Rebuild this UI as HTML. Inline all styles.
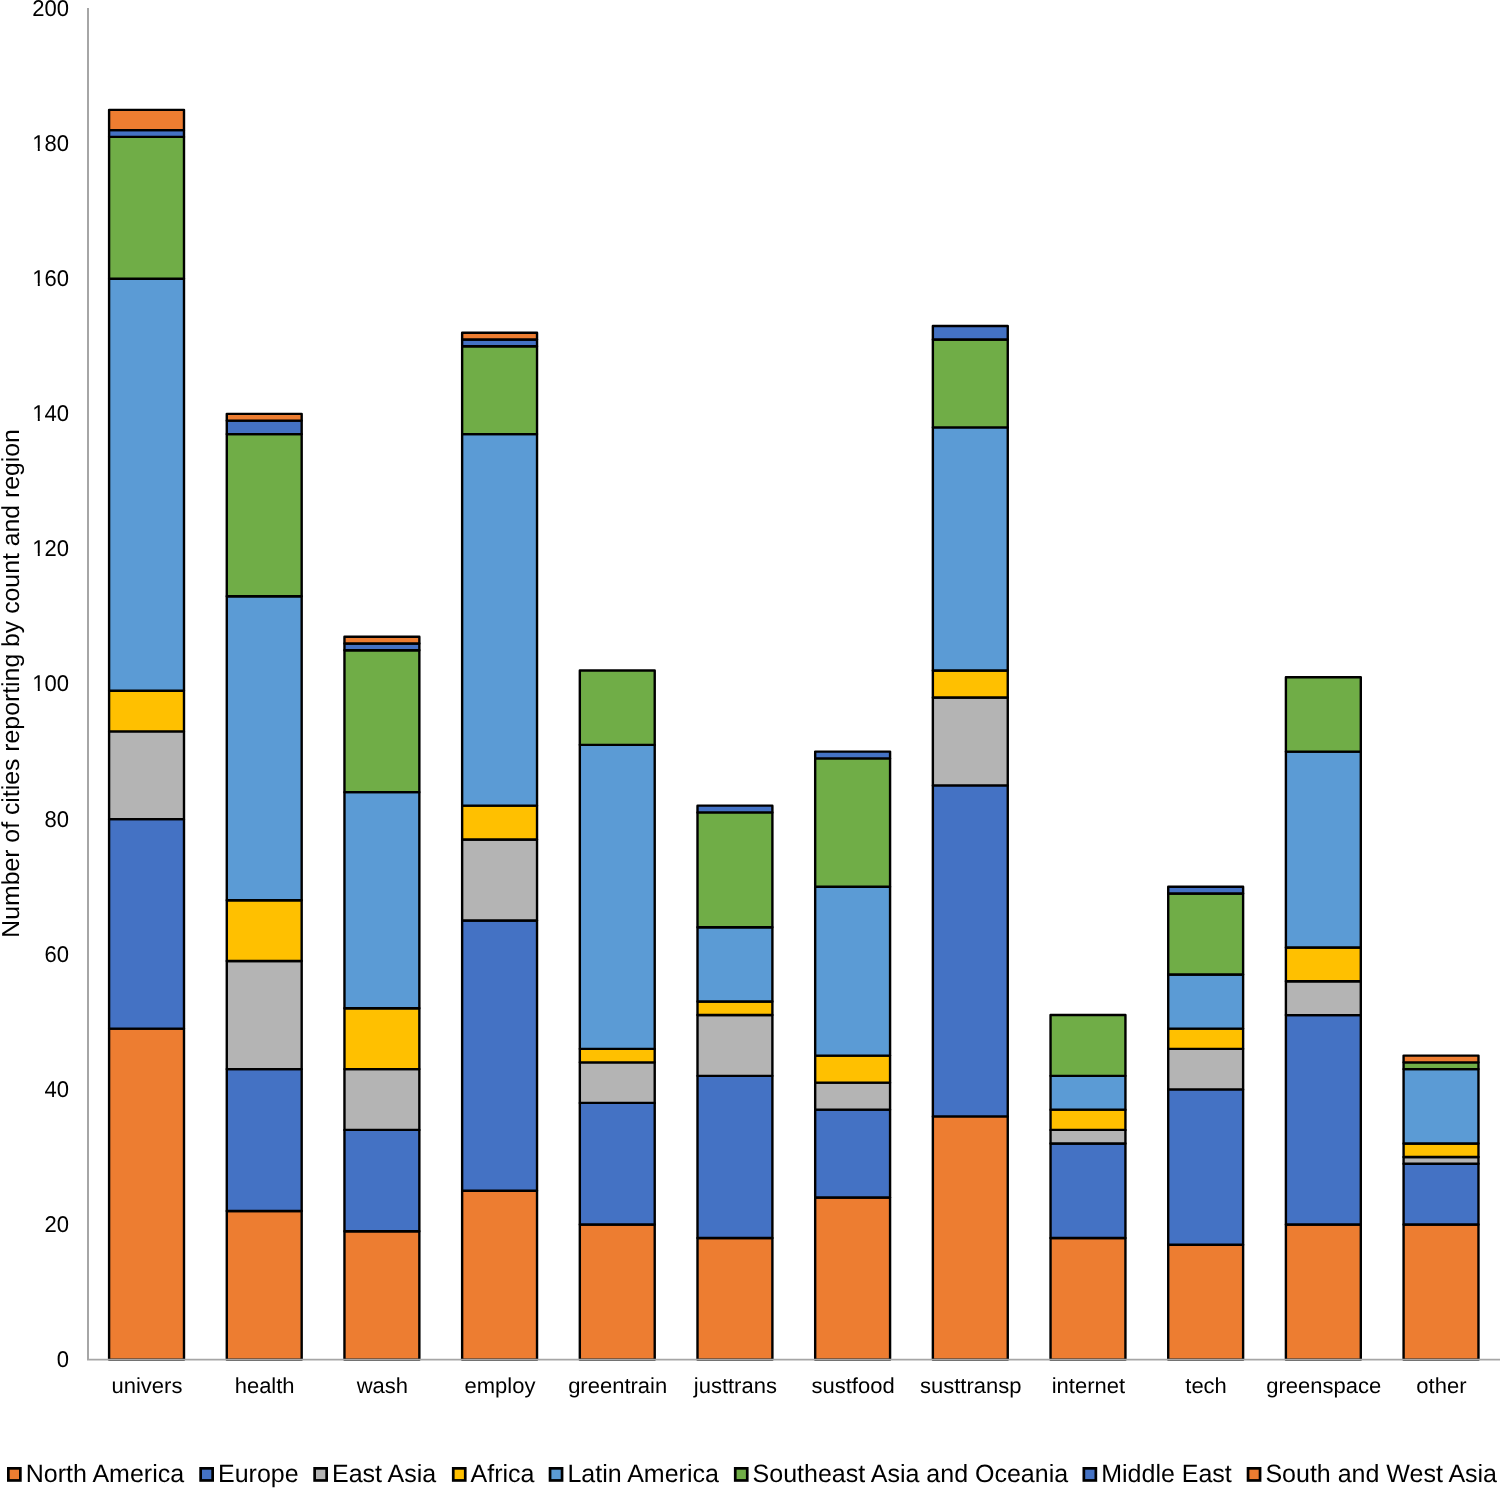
<!DOCTYPE html>
<html><head><meta charset="utf-8"><style>
html,body{margin:0;padding:0;background:#fff;}
body{width:1500px;height:1488px;overflow:hidden;}
svg{display:block;font-family:"Liberation Sans",sans-serif;fill:#000;text-rendering:geometricPrecision;will-change:transform;}
</style></head><body>
<svg width="1500" height="1488" viewBox="0 0 1500 1488">
<line x1="88" y1="8" x2="88" y2="1359.6" stroke="#A6A6A6" stroke-width="2"/>
<rect x="109.10" y="1028.59" width="74.90" height="331.01" fill="#ED7D31" stroke="#000" stroke-width="2.4" stroke-linejoin="round"/>
<rect x="109.10" y="819.17" width="74.90" height="209.42" fill="#4472C4" stroke="#000" stroke-width="2.4" stroke-linejoin="round"/>
<rect x="109.10" y="731.35" width="74.90" height="87.82" fill="#B4B4B4" stroke="#000" stroke-width="2.4" stroke-linejoin="round"/>
<rect x="109.10" y="690.82" width="74.90" height="40.53" fill="#FFC000" stroke="#000" stroke-width="2.4" stroke-linejoin="round"/>
<rect x="109.10" y="278.74" width="74.90" height="412.08" fill="#5B9BD5" stroke="#000" stroke-width="2.4" stroke-linejoin="round"/>
<rect x="109.10" y="136.87" width="74.90" height="141.86" fill="#70AD47" stroke="#000" stroke-width="2.4" stroke-linejoin="round"/>
<rect x="109.10" y="130.12" width="74.90" height="6.76" fill="#4472C4" stroke="#000" stroke-width="2.4" stroke-linejoin="round"/>
<rect x="109.10" y="109.85" width="74.90" height="20.27" fill="#ED7D31" stroke="#000" stroke-width="2.4" stroke-linejoin="round"/>
<rect x="226.78" y="1210.98" width="74.90" height="148.62" fill="#ED7D31" stroke="#000" stroke-width="2.4" stroke-linejoin="round"/>
<rect x="226.78" y="1069.12" width="74.90" height="141.86" fill="#4472C4" stroke="#000" stroke-width="2.4" stroke-linejoin="round"/>
<rect x="226.78" y="961.03" width="74.90" height="108.09" fill="#B4B4B4" stroke="#000" stroke-width="2.4" stroke-linejoin="round"/>
<rect x="226.78" y="900.23" width="74.90" height="60.80" fill="#FFC000" stroke="#000" stroke-width="2.4" stroke-linejoin="round"/>
<rect x="226.78" y="596.24" width="74.90" height="303.99" fill="#5B9BD5" stroke="#000" stroke-width="2.4" stroke-linejoin="round"/>
<rect x="226.78" y="434.11" width="74.90" height="162.13" fill="#70AD47" stroke="#000" stroke-width="2.4" stroke-linejoin="round"/>
<rect x="226.78" y="420.60" width="74.90" height="13.51" fill="#4472C4" stroke="#000" stroke-width="2.4" stroke-linejoin="round"/>
<rect x="226.78" y="413.84" width="74.90" height="6.76" fill="#ED7D31" stroke="#000" stroke-width="2.4" stroke-linejoin="round"/>
<rect x="344.46" y="1231.25" width="74.90" height="128.35" fill="#ED7D31" stroke="#000" stroke-width="2.4" stroke-linejoin="round"/>
<rect x="344.46" y="1129.92" width="74.90" height="101.33" fill="#4472C4" stroke="#000" stroke-width="2.4" stroke-linejoin="round"/>
<rect x="344.46" y="1069.12" width="74.90" height="60.80" fill="#B4B4B4" stroke="#000" stroke-width="2.4" stroke-linejoin="round"/>
<rect x="344.46" y="1008.32" width="74.90" height="60.80" fill="#FFC000" stroke="#000" stroke-width="2.4" stroke-linejoin="round"/>
<rect x="344.46" y="792.15" width="74.90" height="216.17" fill="#5B9BD5" stroke="#000" stroke-width="2.4" stroke-linejoin="round"/>
<rect x="344.46" y="650.28" width="74.90" height="141.86" fill="#70AD47" stroke="#000" stroke-width="2.4" stroke-linejoin="round"/>
<rect x="344.46" y="643.53" width="74.90" height="6.76" fill="#4472C4" stroke="#000" stroke-width="2.4" stroke-linejoin="round"/>
<rect x="344.46" y="636.77" width="74.90" height="6.76" fill="#ED7D31" stroke="#000" stroke-width="2.4" stroke-linejoin="round"/>
<rect x="462.14" y="1190.71" width="74.90" height="168.88" fill="#ED7D31" stroke="#000" stroke-width="2.4" stroke-linejoin="round"/>
<rect x="462.14" y="920.50" width="74.90" height="270.22" fill="#4472C4" stroke="#000" stroke-width="2.4" stroke-linejoin="round"/>
<rect x="462.14" y="839.43" width="74.90" height="81.06" fill="#B4B4B4" stroke="#000" stroke-width="2.4" stroke-linejoin="round"/>
<rect x="462.14" y="805.66" width="74.90" height="33.78" fill="#FFC000" stroke="#000" stroke-width="2.4" stroke-linejoin="round"/>
<rect x="462.14" y="434.11" width="74.90" height="371.55" fill="#5B9BD5" stroke="#000" stroke-width="2.4" stroke-linejoin="round"/>
<rect x="462.14" y="346.29" width="74.90" height="87.82" fill="#70AD47" stroke="#000" stroke-width="2.4" stroke-linejoin="round"/>
<rect x="462.14" y="339.53" width="74.90" height="6.76" fill="#4472C4" stroke="#000" stroke-width="2.4" stroke-linejoin="round"/>
<rect x="462.14" y="332.78" width="74.90" height="6.76" fill="#ED7D31" stroke="#000" stroke-width="2.4" stroke-linejoin="round"/>
<rect x="579.82" y="1224.49" width="74.90" height="135.11" fill="#ED7D31" stroke="#000" stroke-width="2.4" stroke-linejoin="round"/>
<rect x="579.82" y="1102.89" width="74.90" height="121.60" fill="#4472C4" stroke="#000" stroke-width="2.4" stroke-linejoin="round"/>
<rect x="579.82" y="1062.36" width="74.90" height="40.53" fill="#B4B4B4" stroke="#000" stroke-width="2.4" stroke-linejoin="round"/>
<rect x="579.82" y="1048.85" width="74.90" height="13.51" fill="#FFC000" stroke="#000" stroke-width="2.4" stroke-linejoin="round"/>
<rect x="579.82" y="744.86" width="74.90" height="303.99" fill="#5B9BD5" stroke="#000" stroke-width="2.4" stroke-linejoin="round"/>
<rect x="579.82" y="670.55" width="74.90" height="74.31" fill="#70AD47" stroke="#000" stroke-width="2.4" stroke-linejoin="round"/>
<rect x="697.50" y="1238.00" width="74.90" height="121.60" fill="#ED7D31" stroke="#000" stroke-width="2.4" stroke-linejoin="round"/>
<rect x="697.50" y="1075.87" width="74.90" height="162.13" fill="#4472C4" stroke="#000" stroke-width="2.4" stroke-linejoin="round"/>
<rect x="697.50" y="1015.07" width="74.90" height="60.80" fill="#B4B4B4" stroke="#000" stroke-width="2.4" stroke-linejoin="round"/>
<rect x="697.50" y="1001.56" width="74.90" height="13.51" fill="#FFC000" stroke="#000" stroke-width="2.4" stroke-linejoin="round"/>
<rect x="697.50" y="927.25" width="74.90" height="74.31" fill="#5B9BD5" stroke="#000" stroke-width="2.4" stroke-linejoin="round"/>
<rect x="697.50" y="812.41" width="74.90" height="114.84" fill="#70AD47" stroke="#000" stroke-width="2.4" stroke-linejoin="round"/>
<rect x="697.50" y="805.66" width="74.90" height="6.76" fill="#4472C4" stroke="#000" stroke-width="2.4" stroke-linejoin="round"/>
<rect x="815.18" y="1197.47" width="74.90" height="162.13" fill="#ED7D31" stroke="#000" stroke-width="2.4" stroke-linejoin="round"/>
<rect x="815.18" y="1109.65" width="74.90" height="87.82" fill="#4472C4" stroke="#000" stroke-width="2.4" stroke-linejoin="round"/>
<rect x="815.18" y="1082.63" width="74.90" height="27.02" fill="#B4B4B4" stroke="#000" stroke-width="2.4" stroke-linejoin="round"/>
<rect x="815.18" y="1055.61" width="74.90" height="27.02" fill="#FFC000" stroke="#000" stroke-width="2.4" stroke-linejoin="round"/>
<rect x="815.18" y="886.72" width="74.90" height="168.88" fill="#5B9BD5" stroke="#000" stroke-width="2.4" stroke-linejoin="round"/>
<rect x="815.18" y="758.37" width="74.90" height="128.35" fill="#70AD47" stroke="#000" stroke-width="2.4" stroke-linejoin="round"/>
<rect x="815.18" y="751.61" width="74.90" height="6.76" fill="#4472C4" stroke="#000" stroke-width="2.4" stroke-linejoin="round"/>
<rect x="932.86" y="1116.41" width="74.90" height="243.19" fill="#ED7D31" stroke="#000" stroke-width="2.4" stroke-linejoin="round"/>
<rect x="932.86" y="785.39" width="74.90" height="331.01" fill="#4472C4" stroke="#000" stroke-width="2.4" stroke-linejoin="round"/>
<rect x="932.86" y="697.57" width="74.90" height="87.82" fill="#B4B4B4" stroke="#000" stroke-width="2.4" stroke-linejoin="round"/>
<rect x="932.86" y="670.55" width="74.90" height="27.02" fill="#FFC000" stroke="#000" stroke-width="2.4" stroke-linejoin="round"/>
<rect x="932.86" y="427.35" width="74.90" height="243.19" fill="#5B9BD5" stroke="#000" stroke-width="2.4" stroke-linejoin="round"/>
<rect x="932.86" y="339.53" width="74.90" height="87.82" fill="#70AD47" stroke="#000" stroke-width="2.4" stroke-linejoin="round"/>
<rect x="932.86" y="326.02" width="74.90" height="13.51" fill="#4472C4" stroke="#000" stroke-width="2.4" stroke-linejoin="round"/>
<rect x="1050.54" y="1238.00" width="74.90" height="121.60" fill="#ED7D31" stroke="#000" stroke-width="2.4" stroke-linejoin="round"/>
<rect x="1050.54" y="1143.43" width="74.90" height="94.58" fill="#4472C4" stroke="#000" stroke-width="2.4" stroke-linejoin="round"/>
<rect x="1050.54" y="1129.92" width="74.90" height="13.51" fill="#B4B4B4" stroke="#000" stroke-width="2.4" stroke-linejoin="round"/>
<rect x="1050.54" y="1109.65" width="74.90" height="20.27" fill="#FFC000" stroke="#000" stroke-width="2.4" stroke-linejoin="round"/>
<rect x="1050.54" y="1075.87" width="74.90" height="33.78" fill="#5B9BD5" stroke="#000" stroke-width="2.4" stroke-linejoin="round"/>
<rect x="1050.54" y="1015.07" width="74.90" height="60.80" fill="#70AD47" stroke="#000" stroke-width="2.4" stroke-linejoin="round"/>
<rect x="1168.22" y="1244.76" width="74.90" height="114.84" fill="#ED7D31" stroke="#000" stroke-width="2.4" stroke-linejoin="round"/>
<rect x="1168.22" y="1089.38" width="74.90" height="155.37" fill="#4472C4" stroke="#000" stroke-width="2.4" stroke-linejoin="round"/>
<rect x="1168.22" y="1048.85" width="74.90" height="40.53" fill="#B4B4B4" stroke="#000" stroke-width="2.4" stroke-linejoin="round"/>
<rect x="1168.22" y="1028.59" width="74.90" height="20.27" fill="#FFC000" stroke="#000" stroke-width="2.4" stroke-linejoin="round"/>
<rect x="1168.22" y="974.54" width="74.90" height="54.04" fill="#5B9BD5" stroke="#000" stroke-width="2.4" stroke-linejoin="round"/>
<rect x="1168.22" y="893.48" width="74.90" height="81.06" fill="#70AD47" stroke="#000" stroke-width="2.4" stroke-linejoin="round"/>
<rect x="1168.22" y="886.72" width="74.90" height="6.76" fill="#4472C4" stroke="#000" stroke-width="2.4" stroke-linejoin="round"/>
<rect x="1285.90" y="1224.49" width="74.90" height="135.11" fill="#ED7D31" stroke="#000" stroke-width="2.4" stroke-linejoin="round"/>
<rect x="1285.90" y="1015.07" width="74.90" height="209.42" fill="#4472C4" stroke="#000" stroke-width="2.4" stroke-linejoin="round"/>
<rect x="1285.90" y="981.30" width="74.90" height="33.78" fill="#B4B4B4" stroke="#000" stroke-width="2.4" stroke-linejoin="round"/>
<rect x="1285.90" y="947.52" width="74.90" height="33.78" fill="#FFC000" stroke="#000" stroke-width="2.4" stroke-linejoin="round"/>
<rect x="1285.90" y="751.61" width="74.90" height="195.91" fill="#5B9BD5" stroke="#000" stroke-width="2.4" stroke-linejoin="round"/>
<rect x="1285.90" y="677.30" width="74.90" height="74.31" fill="#70AD47" stroke="#000" stroke-width="2.4" stroke-linejoin="round"/>
<rect x="1403.58" y="1224.49" width="74.90" height="135.11" fill="#ED7D31" stroke="#000" stroke-width="2.4" stroke-linejoin="round"/>
<rect x="1403.58" y="1163.69" width="74.90" height="60.80" fill="#4472C4" stroke="#000" stroke-width="2.4" stroke-linejoin="round"/>
<rect x="1403.58" y="1156.94" width="74.90" height="6.76" fill="#B4B4B4" stroke="#000" stroke-width="2.4" stroke-linejoin="round"/>
<rect x="1403.58" y="1143.43" width="74.90" height="13.51" fill="#FFC000" stroke="#000" stroke-width="2.4" stroke-linejoin="round"/>
<rect x="1403.58" y="1069.12" width="74.90" height="74.31" fill="#5B9BD5" stroke="#000" stroke-width="2.4" stroke-linejoin="round"/>
<rect x="1403.58" y="1062.36" width="74.90" height="6.76" fill="#70AD47" stroke="#000" stroke-width="2.4" stroke-linejoin="round"/>
<rect x="1403.58" y="1055.61" width="74.90" height="6.76" fill="#ED7D31" stroke="#000" stroke-width="2.4" stroke-linejoin="round"/>
<line x1="87" y1="1359.6" x2="1500" y2="1359.6" stroke="#A6A6A6" stroke-width="1.6"/>
<text transform="translate(69.0,1367.00) scale(1,1.04)" text-anchor="end" font-size="22">0</text>
<text transform="translate(69.0,1231.89) scale(1,1.04)" text-anchor="end" font-size="22">20</text>
<text transform="translate(69.0,1096.78) scale(1,1.04)" text-anchor="end" font-size="22">40</text>
<text transform="translate(69.0,961.68) scale(1,1.04)" text-anchor="end" font-size="22">60</text>
<text transform="translate(69.0,826.57) scale(1,1.04)" text-anchor="end" font-size="22">80</text>
<text transform="translate(69.0,691.46) scale(1,1.04)" text-anchor="end" font-size="22">100</text>
<text transform="translate(69.0,556.35) scale(1,1.04)" text-anchor="end" font-size="22">120</text>
<text transform="translate(69.0,421.24) scale(1,1.04)" text-anchor="end" font-size="22">140</text>
<text transform="translate(69.0,286.14) scale(1,1.04)" text-anchor="end" font-size="22">160</text>
<text transform="translate(69.0,151.03) scale(1,1.04)" text-anchor="end" font-size="22">180</text>
<text transform="translate(69.0,15.92) scale(1,1.04)" text-anchor="end" font-size="22">200</text>
<g fill="#fff"><rect x="32.59" y="688.46" width="5.23" height="3.8"/><rect x="39.77" y="688.46" width="4.58" height="3.8"/><rect x="32.59" y="553.35" width="5.23" height="3.8"/><rect x="39.77" y="553.35" width="4.58" height="3.8"/><rect x="32.59" y="418.24" width="5.23" height="3.8"/><rect x="39.77" y="418.24" width="4.58" height="3.8"/><rect x="32.59" y="283.14" width="5.23" height="3.8"/><rect x="39.77" y="283.14" width="4.58" height="3.8"/><rect x="32.59" y="148.03" width="5.23" height="3.8"/><rect x="39.77" y="148.03" width="4.58" height="3.8"/></g>
<text transform="translate(146.95,1392.9) scale(1,0.985)" text-anchor="middle" font-size="22">univers</text>
<text transform="translate(264.63,1392.9) scale(1,0.985)" text-anchor="middle" font-size="22">health</text>
<text transform="translate(382.31,1392.9) scale(1,0.985)" text-anchor="middle" font-size="22">wash</text>
<text transform="translate(499.99,1392.9) scale(1,0.985)" text-anchor="middle" font-size="22">employ</text>
<text transform="translate(617.67,1392.9) scale(1,0.985)" text-anchor="middle" font-size="22">greentrain</text>
<text transform="translate(735.35,1392.9) scale(1,0.985)" text-anchor="middle" font-size="22">justtrans</text>
<text transform="translate(853.03,1392.9) scale(1,0.985)" text-anchor="middle" font-size="22">sustfood</text>
<text transform="translate(970.71,1392.9) scale(1,0.985)" text-anchor="middle" font-size="22">susttransp</text>
<text transform="translate(1088.39,1392.9) scale(1,0.985)" text-anchor="middle" font-size="22">internet</text>
<text transform="translate(1206.07,1392.9) scale(1,0.985)" text-anchor="middle" font-size="22">tech</text>
<text transform="translate(1323.75,1392.9) scale(1,0.985)" text-anchor="middle" font-size="22">greenspace</text>
<text transform="translate(1441.43,1392.9) scale(1,0.985)" text-anchor="middle" font-size="22">other</text>
<text transform="translate(18.5,683.4) rotate(-90) scale(1,0.99)" text-anchor="middle" font-size="24.8">Number of cities reporting by count and region</text>
<rect x="8.35" y="1468.35" width="12.00" height="12.10" fill="#ED7D31" stroke="#000" stroke-width="2.7"/>
<text transform="translate(25.70,1482.4) scale(1,1.0)" font-size="25">North America</text>
<rect x="200.65" y="1468.35" width="12.00" height="12.10" fill="#4472C4" stroke="#000" stroke-width="2.7"/>
<text transform="translate(218.00,1482.4) scale(1,1.0)" font-size="25">Europe</text>
<rect x="314.65" y="1468.35" width="12.00" height="12.10" fill="#B4B4B4" stroke="#000" stroke-width="2.7"/>
<text transform="translate(332.00,1482.4) scale(1,1.0)" font-size="25">East Asia</text>
<rect x="453.25" y="1468.35" width="12.00" height="12.10" fill="#FFC000" stroke="#000" stroke-width="2.7"/>
<text transform="translate(470.60,1482.4) scale(1,1.0)" font-size="25">Africa</text>
<rect x="550.05" y="1468.35" width="12.00" height="12.10" fill="#5B9BD5" stroke="#000" stroke-width="2.7"/>
<text transform="translate(567.40,1482.4) scale(1,1.0)" font-size="25">Latin America</text>
<rect x="735.25" y="1468.35" width="12.00" height="12.10" fill="#70AD47" stroke="#000" stroke-width="2.7"/>
<text transform="translate(752.60,1482.4) scale(1,1.0)" font-size="25">Southeast Asia and Oceania</text>
<rect x="1083.85" y="1468.35" width="12.00" height="12.10" fill="#4472C4" stroke="#000" stroke-width="2.7"/>
<text transform="translate(1101.20,1482.4) scale(1,1.0)" font-size="25">Middle East</text>
<rect x="1248.05" y="1468.35" width="12.00" height="12.10" fill="#ED7D31" stroke="#000" stroke-width="2.7"/>
<text transform="translate(1265.40,1482.4) scale(1,1.0)" font-size="25">South and West Asia</text>
</svg>
</body></html>
